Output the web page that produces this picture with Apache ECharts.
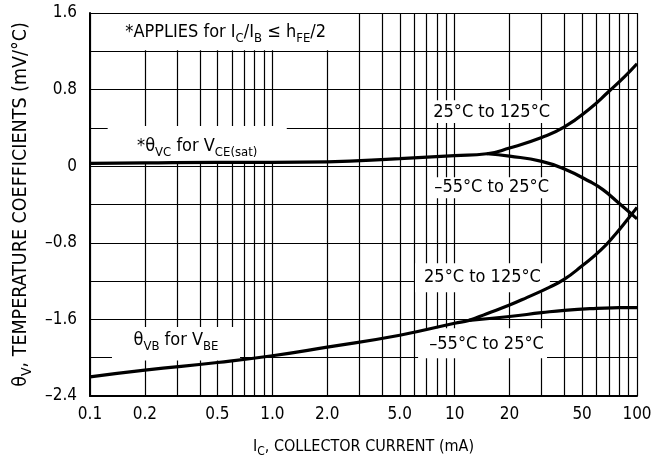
<html>
<head>
<meta charset="utf-8">
<title>Temperature coefficients</title>
</head>
<body style="margin:0">
<div id="container" style="width:659px;height:461px"></div>
<script src="https://cdn.jsdelivr.net/npm/echarts@6/dist/echarts.min.js"></script>
<script>
// values
// theta VC (VCE(sat)) - shared part, then the two temperature branches
var vcX = [0.1, 0.2, 0.5, 1, 2, 5, 10, 15];
var vcY = [0.03, 0.035, 0.04, 0.04, 0.045, 0.08, 0.11, 0.13];
var vcHotX = [20, 30, 40, 55, 70, 85, 100];
var vcHotY = [0.19, 0.30, 0.41, 0.60, 0.78, 0.93, 1.07];
var vcColdX = [15, 20, 30, 40, 55, 65, 80, 100];
var vcColdY = [0.13, 0.105, 0.05, -0.03, -0.16, -0.245, -0.39, -0.55];

// theta VB (VBE)
var vbX = [0.1, 0.2, 0.5, 1, 2, 5, 10, 12];
var vbY = [-2.20, -2.13, -2.05, -1.98, -1.89, -1.765, -1.64, -1.61];
var vbHotX = [15, 20, 25, 33, 40, 50, 63, 77, 88, 100];
var vbHotY = [-1.54, -1.45, -1.37, -1.265, -1.18, -1.04, -0.88, -0.70, -0.565, -0.43];
var vbColdX = [12, 20, 30, 40, 60, 80, 100];
var vbColdY = [-1.61, -1.57, -1.53, -1.505, -1.485, -1.478, -1.476];

// axes
var xGrid = [0.1, 0.2, 0.3, 0.4, 0.5, 0.6, 0.7, 0.8, 0.9, 1, 2, 3, 4, 5, 6, 7, 8, 9, 10, 20, 30, 40, 50, 60, 70, 80, 90, 100];
var xLabelVals = [0.1, 0.2, 0.5, 1, 2, 5, 10, 20, 50, 100];
var xLabelText = ['0.1', '0.2', '0.5', '1.0', '2.0', '5.0', '10', '20', '50', '100'];
var yLabelVals = [1.6, 0.8, 0, -0.8, -1.6, -2.4];
var yLabelText = ['1.6', '0.8', '0', '\u20130.8', '\u20131.6', '\u20132.4'];

// annotation texts
var noteApplies = '{n|*APPLIES for I}{s|C}{n|/I}{s|B}{n| \u2264 h}{s|FE}{n|/2}';
var noteVC = '{n|*\u03b8}{s|VC}{n| for V}{s|CE(sat)}';
var noteVB = '{n|\u03b8}{s|VB}{n| for V}{s|BE}';
var noteHot = '{n|25\u00b0C to 125\u00b0C}';
var noteCold = '{n|\u201355\u00b0C to 25\u00b0C}';

function pairs(xs, ys) {
    var res = [];
    for (var i = 0; i < xs.length; i++) res.push([xs[i], ys[i]]);
    return res;
}

var FONT = "'DejaVu Sans Condensed', sans-serif";
// normal text + subscript at a given size
function makeRich(size) {
    return {
        n: {fontSize: size, fontFamily: FONT, color: '#000'},
        s: {fontSize: Math.round(size * 0.72), fontFamily: FONT, color: '#000',
            padding: [Math.round(size * 0.66), 0, 0, 0]}
    };
}
var rich = makeRich(18);

function box(x0, y0, x1, y1, text, offset) {
    return [
        {xAxis: x0, yAxis: y0, label: {formatter: text, offset: offset || [0, 0]}},
        {xAxis: x1, yAxis: y1}
    ];
}

var myChart = echarts.init(document.getElementById('container'));

var curveStyle = {color: '#000', width: 3.2};
function curve(data) {
    return {type: 'line', z: 3, smooth: 0.5, symbol: 'none',
        lineStyle: curveStyle, data: data};
}

option = {
    backgroundColor: '#fff',
    animation: false,
    grid: {left: 90, right: 22, top: 13, bottom: 65, outerBoundsMode: 'none'},
    xAxis: {
        type: 'log',
        logBase: 10,
        min: 0.1,
        max: 100,
        name: '{n|I}{s|C}{n|, COLLECTOR CURRENT (mA)}',
        nameLocation: 'middle',
        nameGap: 39,
        nameTextStyle: {rich: makeRich(16)},
        axisLine: {onZero: false, lineStyle: {color: '#000', width: 2}},
        axisTick: {show: false, customValues: xGrid},
        splitLine: {show: true, lineStyle: {color: '#000', width: 1.2}},
        axisLabel: {
            customValues: xLabelVals,
            color: '#000',
            fontSize: 17,
            fontFamily: FONT,
            margin: 10,
            formatter: function (v) {
                for (var i = 0; i < xLabelVals.length; i++) {
                    if (Math.abs(xLabelVals[i] - v) < 1e-9 * Math.max(1, v)) return xLabelText[i];
                }
                return '';
            }
        }
    },
    yAxis: {
        type: 'value',
        min: -2.4,
        max: 1.6,
        interval: 0.4,
        name: '{n|\u03b8}{s|V}{n|, TEMPERATURE COEFFICIENTS (mV/\u00b0C)}',
        nameLocation: 'middle',
        nameRotate: 90,
        nameGap: 56,
        nameTextStyle: {rich: makeRich(19.5)},
        axisLine: {show: true, onZero: false, lineStyle: {color: '#000', width: 2}},
        axisTick: {show: false},
        splitLine: {show: true, lineStyle: {color: '#000', width: 1.2}},
        axisLabel: {
            color: '#000',
            fontSize: 17,
            fontFamily: FONT,
            margin: 13,
            formatter: function (v) {
                for (var i = 0; i < yLabelVals.length; i++) {
                    if (Math.abs(yLabelVals[i] - v) < 1e-6) return yLabelText[i];
                }
                return '';
            }
        }
    },
    series: [
        {
            // white label boxes that break the grid
            type: 'line',
            z: 1,
            data: [],
            markArea: {
                silent: true,
                itemStyle: {color: '#fff', borderWidth: 0},
                label: {show: true, position: 'inside', rich: rich},
                data: [
                    box(0.103, 1.59, 2.84, 1.21, noteApplies, [2, 0]),
                    box(0.125, 0.42, 1.2, 0.03, noteVC, [0, 2]),
                    box(7.33, 0.69, 34.7, 0.45, noteHot, [0, 1]),
                    box(7.33, -0.115, 34.7, -0.334, noteCold),
                    box(6.06, -1.013, 33.3, -1.316, noteHot),
                    box(6.3, -1.692, 32.1, -2.005, noteCold, [4, 1]),
                    box(0.132, -1.68, 0.665, -2.03, noteVB, [0, -3])
                ]
            }
        },
        curve(pairs(vcX.concat(vcHotX), vcY.concat(vcHotY))),
        curve(pairs(vcColdX, vcColdY)),
        curve(pairs(vbX.concat(vbHotX), vbY.concat(vbHotY))),
        curve(pairs(vbColdX, vbColdY))
    ]
};

myChart.setOption(option);
</script>
</body>
</html>
